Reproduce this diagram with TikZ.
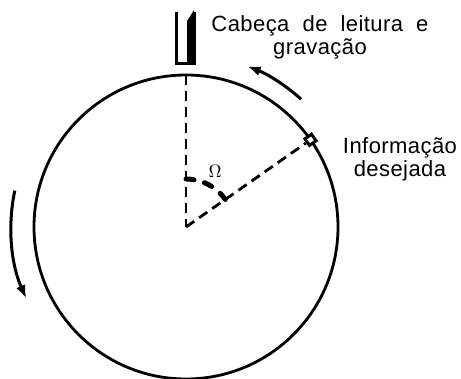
\documentclass[tikz,border=0pt]{standalone}
\usepackage{fontspec}
\setmainfont{Liberation Sans}[LetterSpace=2,WordSpace=2]
\usetikzlibrary{arrows.meta,calc}

\begin{document}
\begin{tikzpicture}[x=1pt,y=1pt,
  rim/.style={line width=2.8pt},
  ray/.style={line width=2.8pt, dash pattern=on 10pt off 6pt},
  arr/.style={-{Latex[length=13pt,width=10pt]}, line width=3pt},
  lbl/.style={font=\fontsize{22}{23}\selectfont, align=center, inner sep=0pt},
  headbox/.style={minimum width=17pt, minimum height=51pt, inner sep=0pt},
  marker/.style={draw, line width=3pt, fill=white, minimum size=8pt, inner sep=0pt, rotate=35}
]
\useasboundingbox (0,0) rectangle (461,379);
% Disk
\coordinate (ctr) at (186,152);
\draw[rim] (ctr) circle[radius=152pt];
\coordinate (top) at ($(ctr)+(90:152pt)$);
\node[marker] (mark) at ($(ctr)+(35:152pt)$) {};
% Radii
\draw[ray] (top) -- (ctr);
\draw[ray] (ctr) -- (mark);
% Angle
\draw[line width=5pt, dash pattern=on 8pt off 11pt, line cap=round]
  ($(ctr)+(90:48pt)$) arc[start angle=90, end angle=35, radius=48pt];
\node (omega) at (215,208) {\scalebox{1.8}{$\Omega$}};
% Head
\node[headbox] (head) at (185.5,341.5) {};
\draw[line width=2.8pt] (head.north west) -- (head.south west) -- (head.south east) -- (head.north east);
\fill ($(head.south east)+(-7,0)$) -- ($(head.north east)+(-7,-9)$) -- ($(head.north east)+(0,2)$) -- (head.south east) -- cycle;
% Labels
\node[lbl] (headlbl) at (320,342) {Cabeça de leitura e\\gravação};
\node[lbl] (infolbl) at (400,220) {Informação\\desejada};
% Rotation
\draw[arr] ($(ctr)+(48:172pt)$) arc[start angle=48, end angle=69, radius=172pt];
\draw[arr] ($(ctr)+(168:175pt)$) arc[start angle=168, end angle=204, radius=175pt];
\end{tikzpicture}
\end{document}
